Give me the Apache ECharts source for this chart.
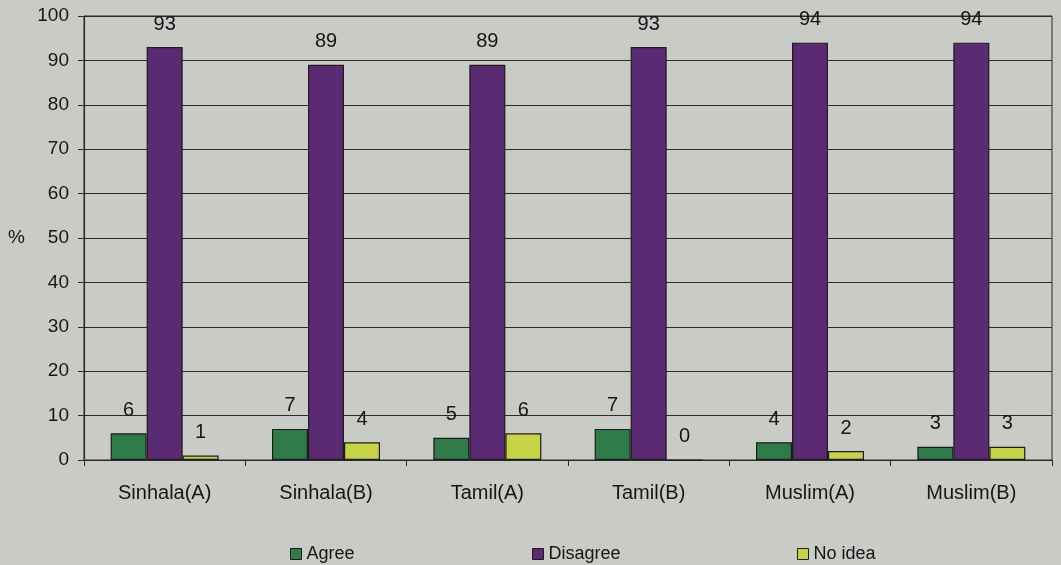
<!DOCTYPE html>
<html>
<head>
<meta charset="utf-8">
<script src="https://cdn.jsdelivr.net/npm/echarts@6/dist/echarts.min.js"></script>
<style>
  html, body { margin: 0; padding: 0; background: #c9cbc7; }
  #chart { width: 1061px; height: 565px; }
</style>
</head>
<body>
<div id="chart"></div>
<script>
// Survey responses by community group (percent)
const categories = ['Sinhala(A)', 'Sinhala(B)', 'Tamil(A)', 'Tamil(B)', 'Muslim(A)', 'Muslim(B)'];
const agree    = [6, 7, 5, 7, 4, 3];
const disagree = [93, 89, 89, 93, 94, 94];
const noIdea   = [1, 4, 6, 0, 2, 3];
const yTicks   = [0, 10, 20, 30, 40, 50, 60, 70, 80, 90, 100];

const FONT = 'Liberation Sans, Arial, sans-serif';
const INK = '#161616';

const chart = echarts.init(document.getElementById('chart'), null, { renderer: 'canvas' });

function barSeries(name, data, color) {
  return {
    name: name,
    type: 'bar',
    data: data,
    barWidth: 36,
    barGap: '0%',
    itemStyle: { color: color, borderColor: '#1c1c1c', borderWidth: 1.2 },
    label: {
      show: true,
      position: 'top',
      distance: 13,
      color: INK,
      fontFamily: FONT,
      fontSize: 20
    }
  };
}

const legendBase = {
  orient: 'horizontal',
  top: 540,
  itemWidth: 11,
  itemHeight: 11,
  itemGap: 6,
  icon: 'rect',
  textStyle: { color: INK, fontFamily: FONT, fontSize: 18 },
  itemStyle: { borderColor: '#1c1c1c', borderWidth: 1 }
};

chart.setOption({
  backgroundColor: '#c9cbc7',
  animation: false,
  grid: {
    left: 84, right: 9, top: 16, bottom: 105,
    show: true, borderColor: '#2a2a2a', borderWidth: 1, backgroundColor: 'transparent'
  },
  legend: [
    Object.assign({}, legendBase, { data: ['Agree'], left: 285 }),
    Object.assign({}, legendBase, { data: ['Disagree'], left: 527 }),
    Object.assign({}, legendBase, { data: ['No idea'], left: 792 })
  ],
  xAxis: {
    type: 'category',
    data: categories,
    boundaryGap: true,
    axisLine: { show: true, lineStyle: { color: '#2a2a2a', width: 1.2 } },
    axisTick: { show: true, length: 6, alignWithLabel: false, lineStyle: { color: '#2a2a2a' } },
    axisLabel: { color: INK, fontFamily: FONT, fontSize: 20, margin: 23 }
  },
  yAxis: {
    type: 'value',
    min: yTicks[0],
    max: yTicks[yTicks.length - 1],
    interval: 10,
    name: '%',
    nameLocation: 'middle',
    nameRotate: 0,
    nameGap: 59,
    nameTextStyle: { color: INK, fontFamily: FONT, fontSize: 19 },
    axisLine: { show: true, lineStyle: { color: '#2a2a2a', width: 1.2 } },
    axisTick: { show: true, length: 6, lineStyle: { color: '#2a2a2a' } },
    axisLabel: { color: INK, fontFamily: FONT, fontSize: 19, margin: 15 },
    splitLine: { show: true, lineStyle: { color: '#2a2a2a', width: 1 } }
  },
  series: [
    barSeries('Agree', agree, '#2f7b47'),
    barSeries('Disagree', disagree, '#5a2b72'),
    barSeries('No idea', noIdea, '#c5d344')
  ]
});
</script>
</body>
</html>
